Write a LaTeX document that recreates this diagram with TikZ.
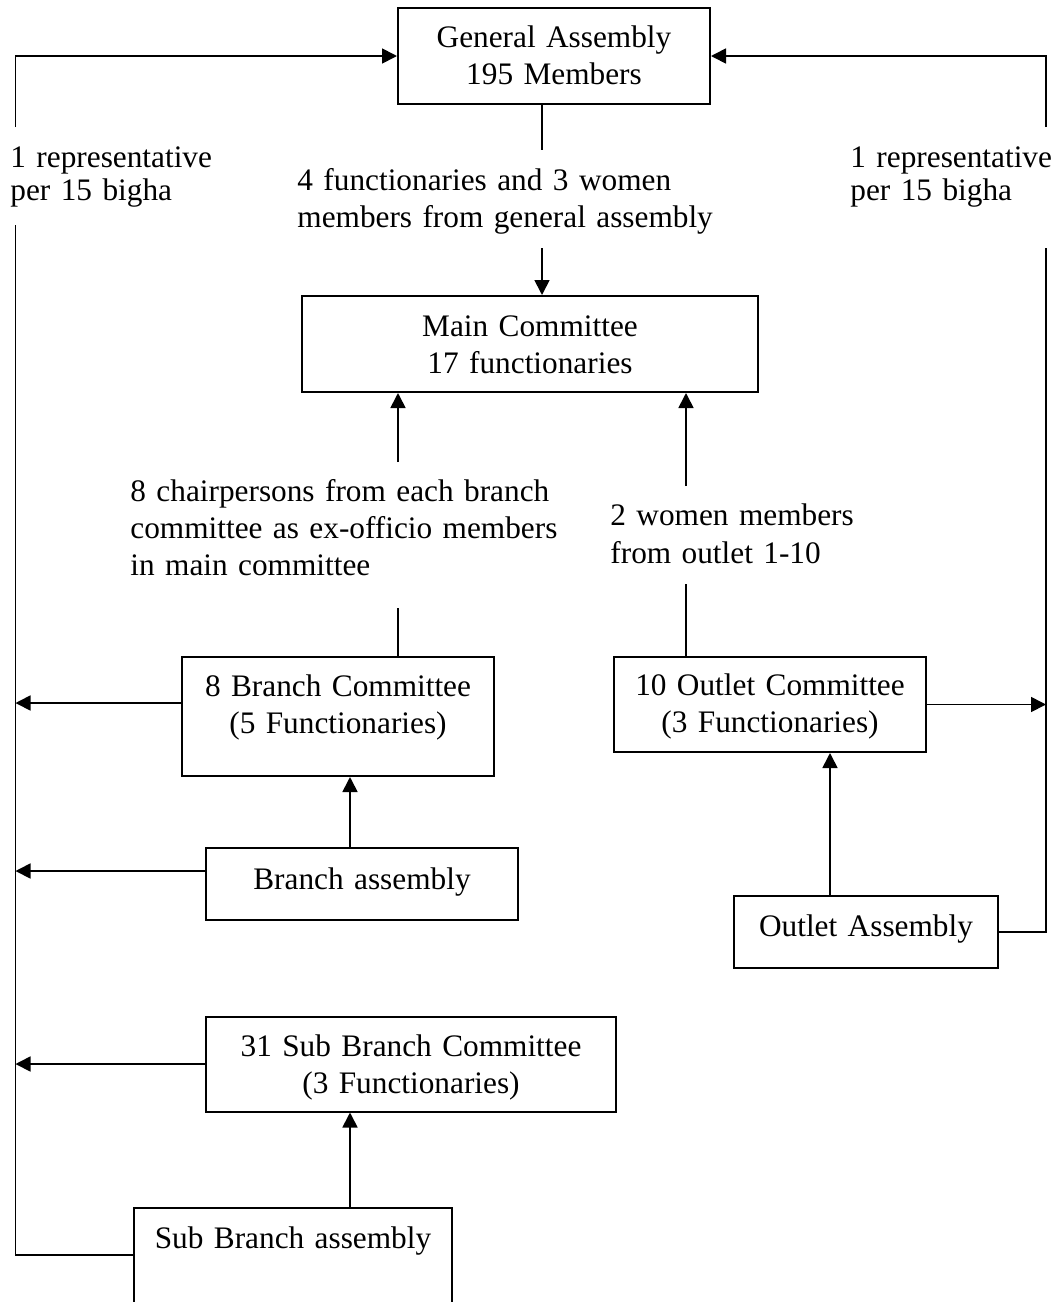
\documentclass[tikz,border=0pt]{standalone}
\usepackage{fontspec}
\setmainfont{Liberation Serif}
\usetikzlibrary{arrows.meta}
\begin{document}
\begin{tikzpicture}[x=0.5pt,y=-0.5pt,
  box/.style={draw, line width=1pt, inner sep=0pt, anchor=north, align=center,
    font=\fontsize{15.65}{18.75}\selectfont},
  lbl/.style={inner sep=0pt, anchor=base west, align=left},
  conn/.style={line width=0.85pt},
  arr/.style={conn, -{Triangle[length=7.5pt,width=7.5pt]}}
]
\useasboundingbox (0,0) rectangle (1061,1302);

% boxes
\node[box, text width=156pt, text height=19.5pt, text depth=28.5pt] (ga) at (554,7) {General Assembly\\195 Members};
\node[box, text width=228pt, text height=20pt, text depth=28pt] (main) at (530,295) {Main Committee\\17 functionaries};
\node[box, text width=156.25pt, text height=19.5pt, text depth=40pt] (bc) at (338,656) {8 Branch Committee\\(5 Functionaries)};
\node[box, text width=156.2pt, text height=19pt, text depth=28.5pt] (oc) at (770,656) {10 Outlet Committee\\(3 Functionaries)};
\node[box, text width=156.2pt, text height=20.5pt, text depth=15.5pt] (ba) at (362,847) {Branch assembly};
\node[box, text width=132.25pt, text height=20pt, text depth=16pt] (oa) at (866,895) {Outlet Assembly};
\node[box, text width=205pt, text height=19.75pt, text depth=27.75pt] (sbc) at (411,1015.5) {31 Sub Branch Committee\\(3 Functionaries)};
\node[box, text width=159pt, text height=20.25pt, text depth=46.25pt] (sba) at (293,1207) {Sub Branch assembly};

% labels
\node[lbl, text width=106pt, font=\fontsize{15.65}{16.5}\selectfont] (repL) at (10,167) {1 representative\\per 15 bigha};
\node[lbl, text width=106pt, font=\fontsize{15.65}{16.5}\selectfont] (repR) at (850,167) {1 representative\\per 15 bigha};
\node[lbl, text width=215pt, font=\fontsize{15.65}{18.5}\selectfont] (gaLbl) at (297,190) {4 functionaries and 3 women\\members from general assembly};
\node[lbl, text width=222pt, font=\fontsize{15.65}{18.5}\selectfont] (chLbl) at (130,501) {8 chairpersons from each branch\\committee as ex-officio members\\in main committee};
\node[lbl, text width=126pt, font=\fontsize{15.65}{18.75}\selectfont] (owLbl) at (610,525.5) {2 women members\\from outlet 1-10};

% coordinates for free ends
\coordinate (lTop) at (15.5,127);
\coordinate (lBot) at (15.5,225);
\coordinate (lEnd) at (15.5,1255);
\coordinate (rTop) at (1046,127);
\coordinate (rBot) at (1046,248);
\coordinate (gaA) at (542,150);
\coordinate (gaB) at (542,248);
\coordinate (chA) at (398,462);
\coordinate (chB) at (398,608);
\coordinate (owA) at (686,486);
\coordinate (owB) at (686,584);
\coordinate (bcY) at (0,703);
\coordinate (baY) at (0,871);
\coordinate (bx) at (350,0);
\coordinate (ox) at (830,0);

% connectors
\draw[arr] (lTop) |- (ga.west);
\draw[arr] (rTop) |- (ga.east);
\draw[conn] (lBot) -- (lEnd) -- (sba.west |- lEnd);
\draw[arr] (bc.west |- bcY) -- (lBot |- bcY);
\draw[arr] (ba.west |- baY) -- (lBot |- baY);
\draw[arr] (sbc.west) -- (lBot |- sbc.west);
\draw[conn] (oa.east) -| (rBot);
\draw[arr] (oc.east) -- (rBot |- oc.east);
\draw[conn] (ga.south -| gaA) -- (gaA);
\draw[arr] (gaB) -- (main.north -| gaB);
\draw[arr] (chA) -- (main.south -| chA);
\draw[conn] (chB) -- (bc.north -| chB);
\draw[arr] (owA) -- (main.south -| owA);
\draw[conn] (owB) -- (oc.north -| owB);
\draw[arr] (ba.north -| bx) -- (bc.south -| bx);
\draw[arr] (oa.north -| ox) -- (oc.south -| ox);
\draw[arr] (sba.north -| bx) -- (sbc.south -| bx);
\end{tikzpicture}
\end{document}
